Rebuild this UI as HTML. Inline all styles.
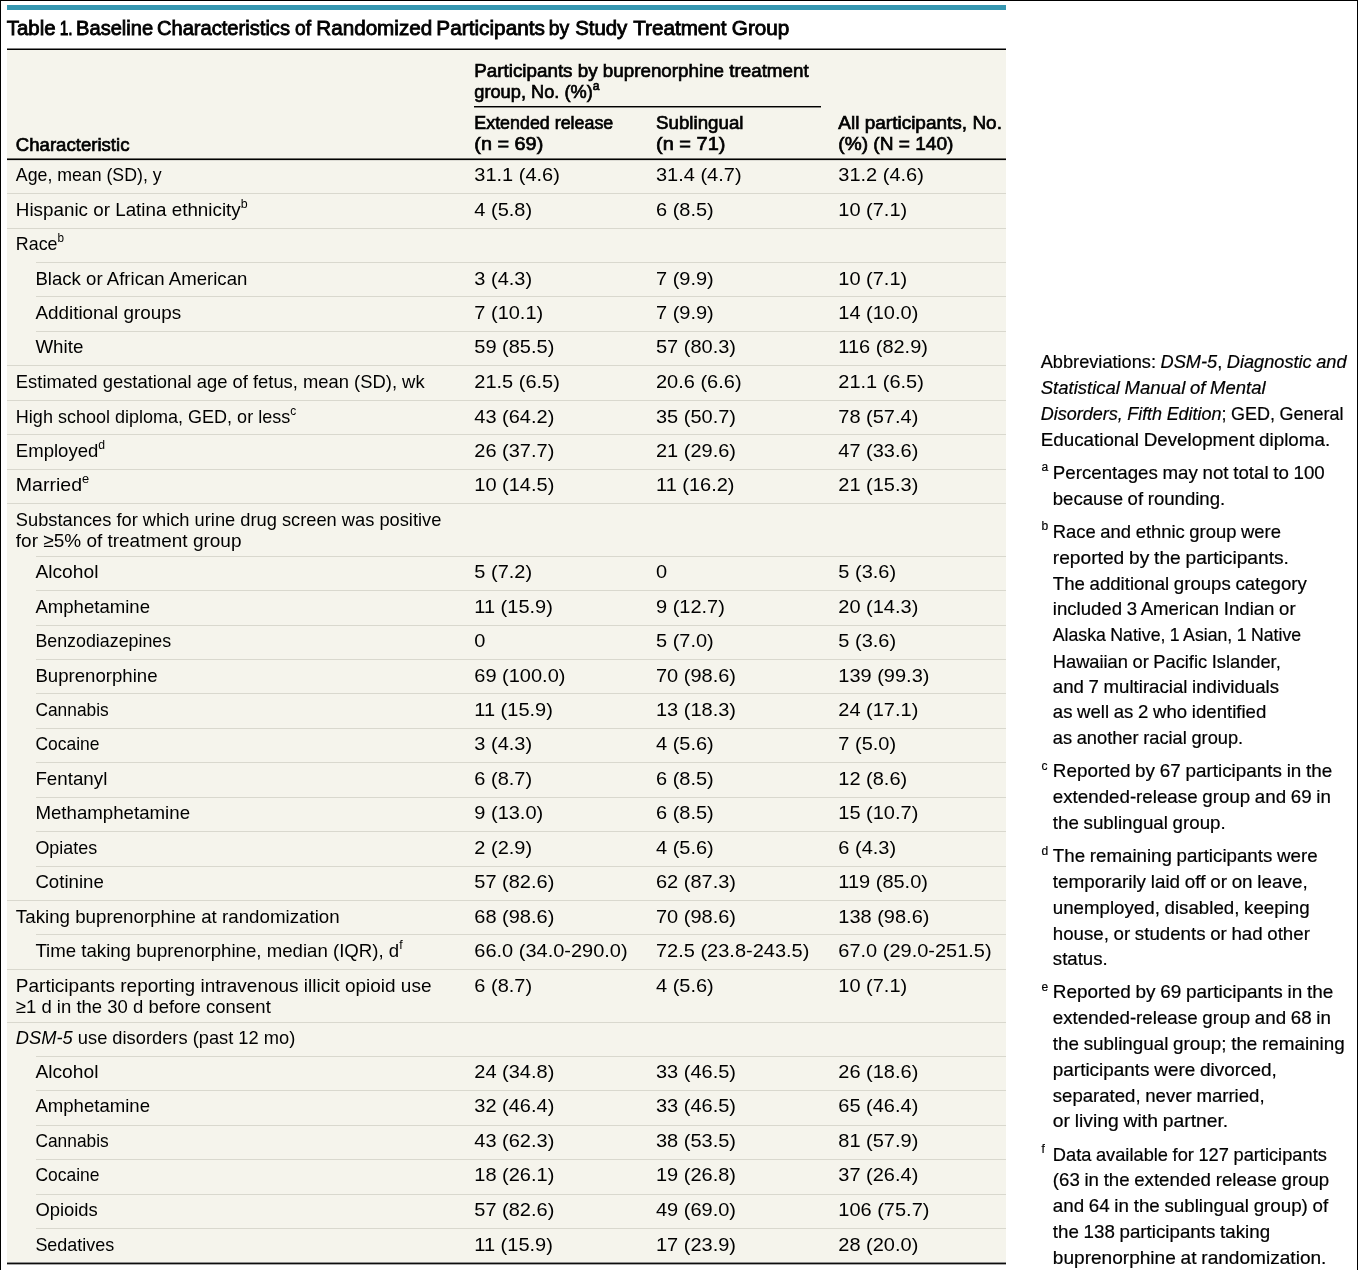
<!DOCTYPE html>
<html lang="en"><head><meta charset="utf-8"><title>Table 1</title>
<style>
html,body{margin:0;padding:0;}
body{will-change:transform;width:1358px;height:1270px;position:relative;overflow:hidden;background:#fff;font-family:"Liberation Sans",sans-serif;color:#000;}
.t{position:absolute;left:0;top:0;white-space:nowrap;line-height:1;transform-origin:0 0;display:block;}
.sp{font-size:66%;position:relative;top:-0.62em;font-weight:400;}
i{font-style:italic;}
.title{font-size:20.7px;font-weight:400;-webkit-text-stroke:0.85px #000;}
.hd{font-size:19.0px;font-weight:400;-webkit-text-stroke:0.7px #000;}
.bd{font-size:19.0px;font-weight:400;}
.fn{font-size:18.2px;font-weight:400;word-spacing:-0.5px;-webkit-text-stroke:0.2px #000;}

.frame{position:absolute;left:0;top:0;width:1356px;height:1270px;border-left:1px solid #000;border-right:1px solid #000;border-top:1px solid #000;}
.bar{position:absolute;left:7px;top:5px;width:999px;height:5px;background:#3697b1;}
.tbg{position:absolute;left:7px;top:50px;width:999px;background:#f5f4ec;}
.r{position:absolute;height:1px;}
.sep{position:absolute;height:1px;background:#d9d8ce;}
</style></head><body>
<div class="frame"></div>
<div class="bar"></div>
<div class="tbg" style="height:1212px"></div>
<div class="r" style="left:7px;top:48px;width:999px;background:rgba(0,0,0,0.50)"></div>
<div class="r" style="left:7px;top:49px;width:999px;background:rgba(0,0,0,1.00)"></div>
<div class="r" style="left:474px;top:106px;width:347px;background:rgba(0,0,0,1.00)"></div>
<div class="r" style="left:474px;top:107px;width:347px;background:rgba(0,0,0,0.45)"></div>
<div class="r" style="left:7px;top:158px;width:999px;background:rgba(0,0,0,0.55)"></div>
<div class="r" style="left:7px;top:159px;width:999px;background:rgba(0,0,0,1.00)"></div>
<div class="r" style="left:7px;top:160px;width:999px;background:rgba(0,0,0,0.10)"></div>
<div class="r" style="left:7px;top:1262px;width:999px;background:rgba(0,0,0,0.45)"></div>
<div class="r" style="left:7px;top:1263px;width:999px;background:rgba(0,0,0,0.95)"></div>
<div class="r" style="left:7px;top:1264px;width:999px;background:rgba(0,0,0,0.35)"></div>
<div class="sep" style="left:7px;top:193.18px;width:999px"></div>
<div class="sep" style="left:7px;top:227.61px;width:999px"></div>
<div class="sep" style="left:36px;top:262.04px;width:970px"></div>
<div class="sep" style="left:36px;top:296.47px;width:970px"></div>
<div class="sep" style="left:36px;top:330.90px;width:970px"></div>
<div class="sep" style="left:7px;top:365.33px;width:999px"></div>
<div class="sep" style="left:7px;top:399.76px;width:999px"></div>
<div class="sep" style="left:7px;top:434.19px;width:999px"></div>
<div class="sep" style="left:7px;top:468.62px;width:999px"></div>
<div class="sep" style="left:7px;top:503.05px;width:999px"></div>
<div class="sep" style="left:36px;top:555.75px;width:970px"></div>
<div class="sep" style="left:36px;top:590.18px;width:970px"></div>
<div class="sep" style="left:36px;top:624.61px;width:970px"></div>
<div class="sep" style="left:36px;top:659.04px;width:970px"></div>
<div class="sep" style="left:36px;top:693.47px;width:970px"></div>
<div class="sep" style="left:36px;top:727.90px;width:970px"></div>
<div class="sep" style="left:36px;top:762.33px;width:970px"></div>
<div class="sep" style="left:36px;top:796.76px;width:970px"></div>
<div class="sep" style="left:36px;top:831.19px;width:970px"></div>
<div class="sep" style="left:36px;top:865.62px;width:970px"></div>
<div class="sep" style="left:7px;top:900.05px;width:999px"></div>
<div class="sep" style="left:36px;top:934.48px;width:970px"></div>
<div class="sep" style="left:7px;top:968.91px;width:999px"></div>
<div class="sep" style="left:7px;top:1021.61px;width:999px"></div>
<div class="sep" style="left:36px;top:1056.04px;width:970px"></div>
<div class="sep" style="left:36px;top:1090.47px;width:970px"></div>
<div class="sep" style="left:36px;top:1124.90px;width:970px"></div>
<div class="sep" style="left:36px;top:1159.33px;width:970px"></div>
<div class="sep" style="left:36px;top:1193.76px;width:970px"></div>
<div class="sep" style="left:36px;top:1228.19px;width:970px"></div>
<span class="t fn" style="left:1041.5px;top:461px;font-size:12px">a</span>
<span class="t fn" style="left:1041.5px;top:520px;font-size:12px">b</span>
<span class="t fn" style="left:1041.5px;top:760px;font-size:12px">c</span>
<span class="t fn" style="left:1041.5px;top:845px;font-size:12px">d</span>
<span class="t fn" style="left:1041.5px;top:981px;font-size:12px">e</span>
<span class="t fn" style="left:1041.5px;top:1143px;font-size:12px">f</span>
<span class="t title" style="transform:translate(6.78px,18px) scaleX(0.9865)">Table</span>
<span class="t title" style="transform:translate(59.66px,18px) scaleX(0.7558)">1.</span>
<span class="t title" style="transform:translate(76.09px,18px) scaleX(0.9704)">Baseline</span>
<span class="t title" style="transform:translate(156.92px,18px) scaleX(0.9726)">Characteristics</span>
<span class="t title" style="transform:translate(294.98px,18px) scaleX(0.9334)">of</span>
<span class="t title" style="transform:translate(316.24px,18px) scaleX(0.9986)">Randomized</span>
<span class="t title" style="transform:translate(436.37px,18px) scaleX(1.0041)">Participants</span>
<span class="t title" style="transform:translate(548.71px,18px) scaleX(0.9373)">by</span>
<span class="t title" style="transform:translate(575.19px,18px) scaleX(0.9841)">Study</span>
<span class="t title" style="transform:translate(633.28px,18px) scaleX(0.9972)">Treatment</span>
<span class="t title" style="transform:translate(731.87px,18px) scaleX(0.9995)">Group</span>
<span class="t hd" style="transform:translate(474.30px,61px) scaleX(0.9893)">Participants by buprenorphine treatment</span>
<span class="t hd" style="transform:translate(474.30px,82px) scaleX(0.9585)">group, No. (%)<span class="sp">a</span></span>
<span class="t hd" style="transform:translate(474.30px,113px) scaleX(0.9399)">Extended release</span>
<span class="t hd" style="transform:translate(474.30px,134px) scaleX(1.0448)">(n = 69)</span>
<span class="t hd" style="transform:translate(656.00px,113px) scaleX(0.9857)">Sublingual</span>
<span class="t hd" style="transform:translate(656.00px,134px) scaleX(1.0520)">(n = 71)</span>
<span class="t hd" style="transform:translate(838.30px,113px) scaleX(0.9999)">All participants, No.</span>
<span class="t hd" style="transform:translate(838.30px,134px) scaleX(1.0050)">(%) (N = 140)</span>
<span class="t hd" style="transform:translate(15.85px,135px) scaleX(0.9779)">Characteristic</span>
<span class="t bd" style="transform:translate(15.85px,165px) scaleX(0.9326)">Age, mean (SD), y</span>
<span class="t bd" style="transform:translate(474.30px,165px) scaleX(1.0520)">31.1 (4.6)</span>
<span class="t bd" style="transform:translate(656.00px,165px) scaleX(1.0520)">31.4 (4.7)</span>
<span class="t bd" style="transform:translate(838.30px,165px) scaleX(1.0520)">31.2 (4.6)</span>
<span class="t bd" style="transform:translate(15.85px,200px) scaleX(0.9903)">Hispanic or Latina ethnicity<span class="sp">b</span></span>
<span class="t bd" style="transform:translate(474.30px,200px) scaleX(1.0520)">4 (5.8)</span>
<span class="t bd" style="transform:translate(656.00px,200px) scaleX(1.0520)">6 (8.5)</span>
<span class="t bd" style="transform:translate(838.30px,200px) scaleX(1.0520)">10 (7.1)</span>
<span class="t bd" style="transform:translate(15.85px,234px) scaleX(0.9383)">Race<span class="sp">b</span></span>
<span class="t bd" style="transform:translate(35.40px,269px) scaleX(0.9790)">Black or African American</span>
<span class="t bd" style="transform:translate(474.30px,269px) scaleX(1.0520)">3 (4.3)</span>
<span class="t bd" style="transform:translate(656.00px,269px) scaleX(1.0520)">7 (9.9)</span>
<span class="t bd" style="transform:translate(838.30px,269px) scaleX(1.0520)">10 (7.1)</span>
<span class="t bd" style="transform:translate(35.40px,303px) scaleX(0.9936)">Additional groups</span>
<span class="t bd" style="transform:translate(474.30px,303px) scaleX(1.0520)">7 (10.1)</span>
<span class="t bd" style="transform:translate(656.00px,303px) scaleX(1.0520)">7 (9.9)</span>
<span class="t bd" style="transform:translate(838.30px,303px) scaleX(1.0520)">14 (10.0)</span>
<span class="t bd" style="transform:translate(35.40px,337px) scaleX(0.9863)">White</span>
<span class="t bd" style="transform:translate(474.30px,337px) scaleX(1.0520)">59 (85.5)</span>
<span class="t bd" style="transform:translate(656.00px,337px) scaleX(1.0520)">57 (80.3)</span>
<span class="t bd" style="transform:translate(838.30px,337px) scaleX(1.0520)">116 (82.9)</span>
<span class="t bd" style="transform:translate(15.85px,372px) scaleX(0.9676)">Estimated gestational age of fetus, mean (SD), wk</span>
<span class="t bd" style="transform:translate(474.30px,372px) scaleX(1.0520)">21.5 (6.5)</span>
<span class="t bd" style="transform:translate(656.00px,372px) scaleX(1.0520)">20.6 (6.6)</span>
<span class="t bd" style="transform:translate(838.30px,372px) scaleX(1.0520)">21.1 (6.5)</span>
<span class="t bd" style="transform:translate(15.85px,407px) scaleX(0.9481)">High school diploma, GED, or less<span class="sp">c</span></span>
<span class="t bd" style="transform:translate(474.30px,407px) scaleX(1.0520)">43 (64.2)</span>
<span class="t bd" style="transform:translate(656.00px,407px) scaleX(1.0520)">35 (50.7)</span>
<span class="t bd" style="transform:translate(838.30px,407px) scaleX(1.0520)">78 (57.4)</span>
<span class="t bd" style="transform:translate(15.85px,441px) scaleX(0.9756)">Employed<span class="sp">d</span></span>
<span class="t bd" style="transform:translate(474.30px,441px) scaleX(1.0520)">26 (37.7)</span>
<span class="t bd" style="transform:translate(656.00px,441px) scaleX(1.0520)">21 (29.6)</span>
<span class="t bd" style="transform:translate(838.30px,441px) scaleX(1.0520)">47 (33.6)</span>
<span class="t bd" style="transform:translate(15.85px,475px) scaleX(1.0271)">Married<span class="sp">e</span></span>
<span class="t bd" style="transform:translate(474.30px,475px) scaleX(1.0520)">10 (14.5)</span>
<span class="t bd" style="transform:translate(656.00px,475px) scaleX(1.0520)">11 (16.2)</span>
<span class="t bd" style="transform:translate(838.30px,475px) scaleX(1.0520)">21 (15.3)</span>
<span class="t bd" style="transform:translate(15.85px,510px) scaleX(0.9616)">Substances for which urine drug screen was positive</span>
<span class="t bd" style="transform:translate(15.85px,531px) scaleX(0.9987)">for ≥5% of treatment group</span>
<span class="t bd" style="transform:translate(35.40px,562px) scaleX(1.0112)">Alcohol</span>
<span class="t bd" style="transform:translate(474.30px,562px) scaleX(1.0520)">5 (7.2)</span>
<span class="t bd" style="transform:translate(656.00px,562px) scaleX(1.0520)">0</span>
<span class="t bd" style="transform:translate(838.30px,562px) scaleX(1.0520)">5 (3.6)</span>
<span class="t bd" style="transform:translate(35.40px,597px) scaleX(0.9776)">Amphetamine</span>
<span class="t bd" style="transform:translate(474.30px,597px) scaleX(1.0520)">11 (15.9)</span>
<span class="t bd" style="transform:translate(656.00px,597px) scaleX(1.0520)">9 (12.7)</span>
<span class="t bd" style="transform:translate(838.30px,597px) scaleX(1.0520)">20 (14.3)</span>
<span class="t bd" style="transform:translate(35.40px,631px) scaleX(0.9384)">Benzodiazepines</span>
<span class="t bd" style="transform:translate(474.30px,631px) scaleX(1.0520)">0</span>
<span class="t bd" style="transform:translate(656.00px,631px) scaleX(1.0520)">5 (7.0)</span>
<span class="t bd" style="transform:translate(838.30px,631px) scaleX(1.0520)">5 (3.6)</span>
<span class="t bd" style="transform:translate(35.40px,666px) scaleX(0.9794)">Buprenorphine</span>
<span class="t bd" style="transform:translate(474.30px,666px) scaleX(1.0520)">69 (100.0)</span>
<span class="t bd" style="transform:translate(656.00px,666px) scaleX(1.0520)">70 (98.6)</span>
<span class="t bd" style="transform:translate(838.30px,666px) scaleX(1.0520)">139 (99.3)</span>
<span class="t bd" style="transform:translate(35.40px,700px) scaleX(0.9132)">Cannabis</span>
<span class="t bd" style="transform:translate(474.30px,700px) scaleX(1.0520)">11 (15.9)</span>
<span class="t bd" style="transform:translate(656.00px,700px) scaleX(1.0520)">13 (18.3)</span>
<span class="t bd" style="transform:translate(838.30px,700px) scaleX(1.0520)">24 (17.1)</span>
<span class="t bd" style="transform:translate(35.40px,734px) scaleX(0.9185)">Cocaine</span>
<span class="t bd" style="transform:translate(474.30px,734px) scaleX(1.0520)">3 (4.3)</span>
<span class="t bd" style="transform:translate(656.00px,734px) scaleX(1.0520)">4 (5.6)</span>
<span class="t bd" style="transform:translate(838.30px,734px) scaleX(1.0520)">7 (5.0)</span>
<span class="t bd" style="transform:translate(35.40px,769px) scaleX(0.9865)">Fentanyl</span>
<span class="t bd" style="transform:translate(474.30px,769px) scaleX(1.0520)">6 (8.7)</span>
<span class="t bd" style="transform:translate(656.00px,769px) scaleX(1.0520)">6 (8.5)</span>
<span class="t bd" style="transform:translate(838.30px,769px) scaleX(1.0520)">12 (8.6)</span>
<span class="t bd" style="transform:translate(35.40px,803px) scaleX(0.9826)">Methamphetamine</span>
<span class="t bd" style="transform:translate(474.30px,803px) scaleX(1.0520)">9 (13.0)</span>
<span class="t bd" style="transform:translate(656.00px,803px) scaleX(1.0520)">6 (8.5)</span>
<span class="t bd" style="transform:translate(838.30px,803px) scaleX(1.0520)">15 (10.7)</span>
<span class="t bd" style="transform:translate(35.40px,838px) scaleX(0.9427)">Opiates</span>
<span class="t bd" style="transform:translate(474.30px,838px) scaleX(1.0520)">2 (2.9)</span>
<span class="t bd" style="transform:translate(656.00px,838px) scaleX(1.0520)">4 (5.6)</span>
<span class="t bd" style="transform:translate(838.30px,838px) scaleX(1.0520)">6 (4.3)</span>
<span class="t bd" style="transform:translate(35.40px,872px) scaleX(0.9813)">Cotinine</span>
<span class="t bd" style="transform:translate(474.30px,872px) scaleX(1.0520)">57 (82.6)</span>
<span class="t bd" style="transform:translate(656.00px,872px) scaleX(1.0520)">62 (87.3)</span>
<span class="t bd" style="transform:translate(838.30px,872px) scaleX(1.0520)">119 (85.0)</span>
<span class="t bd" style="transform:translate(15.85px,907px) scaleX(0.9857)">Taking buprenorphine at randomization</span>
<span class="t bd" style="transform:translate(474.30px,907px) scaleX(1.0520)">68 (98.6)</span>
<span class="t bd" style="transform:translate(656.00px,907px) scaleX(1.0520)">70 (98.6)</span>
<span class="t bd" style="transform:translate(838.30px,907px) scaleX(1.0520)">138 (98.6)</span>
<span class="t bd" style="transform:translate(35.40px,941px) scaleX(0.9804)">Time taking buprenorphine, median (IQR), d<span class="sp">f</span></span>
<span class="t bd" style="transform:translate(474.30px,941px) scaleX(1.0520)">66.0 (34.0-290.0)</span>
<span class="t bd" style="transform:translate(656.00px,941px) scaleX(1.0520)">72.5 (23.8-243.5)</span>
<span class="t bd" style="transform:translate(838.30px,941px) scaleX(1.0520)">67.0 (29.0-251.5)</span>
<span class="t bd" style="transform:translate(15.85px,976px) scaleX(0.9988)">Participants reporting intravenous illicit opioid use</span>
<span class="t bd" style="transform:translate(15.85px,997px) scaleX(0.9736)">≥1 d in the 30 d before consent</span>
<span class="t bd" style="transform:translate(474.30px,976px) scaleX(1.0520)">6 (8.7)</span>
<span class="t bd" style="transform:translate(656.00px,976px) scaleX(1.0520)">4 (5.6)</span>
<span class="t bd" style="transform:translate(838.30px,976px) scaleX(1.0520)">10 (7.1)</span>
<span class="t bd" style="transform:translate(15.85px,1028px) scaleX(0.9622)"><i>DSM-5</i> use disorders (past 12 mo)</span>
<span class="t bd" style="transform:translate(35.40px,1062px) scaleX(1.0112)">Alcohol</span>
<span class="t bd" style="transform:translate(474.30px,1062px) scaleX(1.0520)">24 (34.8)</span>
<span class="t bd" style="transform:translate(656.00px,1062px) scaleX(1.0520)">33 (46.5)</span>
<span class="t bd" style="transform:translate(838.30px,1062px) scaleX(1.0520)">26 (18.6)</span>
<span class="t bd" style="transform:translate(35.40px,1096px) scaleX(0.9776)">Amphetamine</span>
<span class="t bd" style="transform:translate(474.30px,1096px) scaleX(1.0520)">32 (46.4)</span>
<span class="t bd" style="transform:translate(656.00px,1096px) scaleX(1.0520)">33 (46.5)</span>
<span class="t bd" style="transform:translate(838.30px,1096px) scaleX(1.0520)">65 (46.4)</span>
<span class="t bd" style="transform:translate(35.40px,1131px) scaleX(0.9132)">Cannabis</span>
<span class="t bd" style="transform:translate(474.30px,1131px) scaleX(1.0520)">43 (62.3)</span>
<span class="t bd" style="transform:translate(656.00px,1131px) scaleX(1.0520)">38 (53.5)</span>
<span class="t bd" style="transform:translate(838.30px,1131px) scaleX(1.0520)">81 (57.9)</span>
<span class="t bd" style="transform:translate(35.40px,1165px) scaleX(0.9185)">Cocaine</span>
<span class="t bd" style="transform:translate(474.30px,1165px) scaleX(1.0520)">18 (26.1)</span>
<span class="t bd" style="transform:translate(656.00px,1165px) scaleX(1.0520)">19 (26.8)</span>
<span class="t bd" style="transform:translate(838.30px,1165px) scaleX(1.0520)">37 (26.4)</span>
<span class="t bd" style="transform:translate(35.40px,1200px) scaleX(0.9687)">Opioids</span>
<span class="t bd" style="transform:translate(474.30px,1200px) scaleX(1.0520)">57 (82.6)</span>
<span class="t bd" style="transform:translate(656.00px,1200px) scaleX(1.0520)">49 (69.0)</span>
<span class="t bd" style="transform:translate(838.30px,1200px) scaleX(1.0520)">106 (75.7)</span>
<span class="t bd" style="transform:translate(35.40px,1235px) scaleX(0.9449)">Sedatives</span>
<span class="t bd" style="transform:translate(474.30px,1235px) scaleX(1.0520)">11 (15.9)</span>
<span class="t bd" style="transform:translate(656.00px,1235px) scaleX(1.0520)">17 (23.9)</span>
<span class="t bd" style="transform:translate(838.30px,1235px) scaleX(1.0520)">28 (20.0)</span>
<span class="t fn" style="transform:translate(1040.70px,353px) scaleX(1.0002)">Abbreviations: <i>DSM-5</i>, <i>Diagnostic and</i></span>
<span class="t fn" style="transform:translate(1040.70px,379px) scaleX(1.0179)"><i>Statistical Manual of Mental</i></span>
<span class="t fn" style="transform:translate(1040.70px,405px) scaleX(0.9888)"><i>Disorders, Fifth Edition</i>; GED, General</span>
<span class="t fn" style="transform:translate(1040.70px,431px) scaleX(1.0334)">Educational Development diploma.</span>
<span class="t fn" style="transform:translate(1052.80px,464px) scaleX(1.0286)">Percentages may not total to 100</span>
<span class="t fn" style="transform:translate(1052.80px,490px) scaleX(1.0204)">because of rounding.</span>
<span class="t fn" style="transform:translate(1052.80px,523px) scaleX(1.0116)">Race and ethnic group were</span>
<span class="t fn" style="transform:translate(1052.80px,549px) scaleX(1.0543)">reported by the participants.</span>
<span class="t fn" style="transform:translate(1052.80px,575px) scaleX(1.0233)">The additional groups category</span>
<span class="t fn" style="transform:translate(1052.80px,600px) scaleX(1.0219)">included 3 American Indian or</span>
<span class="t fn" style="transform:translate(1052.80px,626px) scaleX(0.9727)">Alaska Native, 1 Asian, 1 Native</span>
<span class="t fn" style="transform:translate(1052.80px,653px) scaleX(1.0044)">Hawaiian or Pacific Islander,</span>
<span class="t fn" style="transform:translate(1052.80px,678px) scaleX(1.0241)">and 7 multiracial individuals</span>
<span class="t fn" style="transform:translate(1052.80px,703px) scaleX(1.0223)">as well as 2 who identified</span>
<span class="t fn" style="transform:translate(1052.80px,729px) scaleX(1.0043)">as another racial group.</span>
<span class="t fn" style="transform:translate(1052.80px,762px) scaleX(1.0371)">Reported by 67 participants in the</span>
<span class="t fn" style="transform:translate(1052.80px,788px) scaleX(1.0300)">extended-release group and 69 in</span>
<span class="t fn" style="transform:translate(1052.80px,814px) scaleX(1.0299)">the sublingual group.</span>
<span class="t fn" style="transform:translate(1052.80px,847px) scaleX(1.0291)">The remaining participants were</span>
<span class="t fn" style="transform:translate(1052.80px,873px) scaleX(1.0365)">temporarily laid off or on leave,</span>
<span class="t fn" style="transform:translate(1052.80px,899px) scaleX(1.0280)">unemployed, disabled, keeping</span>
<span class="t fn" style="transform:translate(1052.80px,925px) scaleX(1.0271)">house, or students or had other</span>
<span class="t fn" style="transform:translate(1052.80px,950px) scaleX(1.0255)">status.</span>
<span class="t fn" style="transform:translate(1052.80px,983px) scaleX(1.0411)">Reported by 69 participants in the</span>
<span class="t fn" style="transform:translate(1052.80px,1009px) scaleX(1.0300)">extended-release group and 68 in</span>
<span class="t fn" style="transform:translate(1052.80px,1035px) scaleX(1.0345)">the sublingual group; the remaining</span>
<span class="t fn" style="transform:translate(1052.80px,1061px) scaleX(1.0405)">participants were divorced,</span>
<span class="t fn" style="transform:translate(1052.80px,1087px) scaleX(1.0218)">separated, never married,</span>
<span class="t fn" style="transform:translate(1052.80px,1112px) scaleX(1.0612)">or living with partner.</span>
<span class="t fn" style="transform:translate(1052.80px,1146px) scaleX(1.0038)">Data available for 127 participants</span>
<span class="t fn" style="transform:translate(1052.80px,1171px) scaleX(1.0258)">(63 in the extended release group</span>
<span class="t fn" style="transform:translate(1052.80px,1197px) scaleX(1.0316)">and 64 in the sublingual group) of</span>
<span class="t fn" style="transform:translate(1052.80px,1223px) scaleX(1.0305)">the 138 participants taking</span>
<span class="t fn" style="transform:translate(1052.80px,1249px) scaleX(1.0488)">buprenorphine at randomization.</span>
</body></html>
